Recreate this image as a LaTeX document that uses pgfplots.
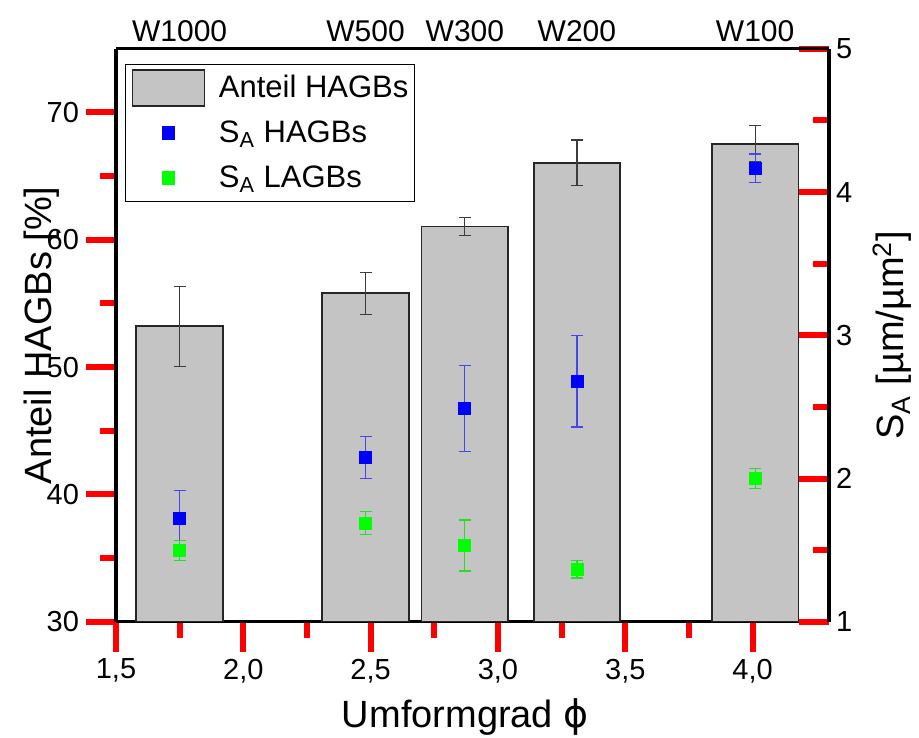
\documentclass[border=0pt]{standalone}
\usepackage{fontspec}
\setmainfont{Liberation Sans}
\newfontfamily\dejavu{DejaVu Sans}
\usepackage{pgfplots}
\pgfplotsset{compat=1.18}
\definecolor{barfill}{RGB}{196,196,196}
\definecolor{hblue}{RGB}{0,0,255}
\definecolor{lgreen}{RGB}{0,255,0}
\definecolor{eblue}{RGB}{70,70,235}
\definecolor{egreen}{RGB}{40,220,40}
\definecolor{egray}{RGB}{60,60,60}
\pgfplotsset{
  common/.style={
    scale only axis, width=356.5pt, height=286.5pt,
    xmin=1.5, xmax=4.3,
    axis line style={line width=1.6pt},
    tick style={red, line width=3pt},
    major tick length=15pt, minor tick length=8pt,
    /pgf/number format/assume math mode=true,
    tick label style={font=\fontsize{14.5}{17}\selectfont},
    label style={font=\fontsize{19}{22}\selectfont, inner sep=0pt},
  },
  barlegend/.style={legend image code/.code={\path[draw=none,fill=none] (0pt,-11.25pt) rectangle (36pt,11.25pt); \draw[##1] (0pt,-9pt) rectangle (36pt,9pt);}},
  mklegend/.style={legend image code/.code={\path[draw=none,fill=none] (0pt,-11.25pt) rectangle (36pt,11.25pt); \draw[##1] plot coordinates {(18pt,0pt)};}},
}
\begin{document}
\begin{tikzpicture}
\begin{axis}[common, at={(0,0)},
  ymin=30, ymax=75,
  axis y line*=left, axis x line*=bottom,
  tick align=outside,
  xtick={1.5,2,2.5,3,3.5,4}, minor x tick num=1,
  ytick={30,40,50,60,70}, minor y tick num=1,
  xticklabel style={/pgf/number format/.cd, use comma, fixed, fixed zerofill, precision=1},
  ylabel={Anteil HAGBs [\%]},
  ylabel style={at={(axis description cs:-0.0898,0.5)}, anchor=base},
  xlabel={Umformgrad {\dejavu ϕ}},
  xlabel style={at={(axis description cs:0.49,-0.185)}, anchor=base},
]
\addplot[ybar, bar width=0.34, fill=barfill, draw=black!85, line width=0.9pt,
  error bars/.cd, y dir=both, y explicit,
  error bar style={egray, line width=0.6pt},
  error mark options={rotate=90, egray, mark size=3pt, line width=0.6pt}]
  table[row sep=\\, x=x, y=y, y error=e] {
x y e\\
1.75 53.2 3.15\\
2.48 55.8 1.65\\
2.87 61.05 0.7\\
3.31 66.05 1.78\\
4.01 67.55 1.4\\
};
\coordinate (BL) at (rel axis cs:0,0);
\coordinate (TR) at (rel axis cs:1,1);
\end{axis}
\begin{axis}[common, at={(0,0)},
  ymin=1, ymax=5,
  axis y line*=right, axis x line=none,
  tick align=inside,
  ytick={1,2,3,4,5}, minor y tick num=1,
  ylabel={S\textsubscript{A} [µm/µm\textsuperscript{2}]},
  ylabel style={at={(axis description cs:1.105,0.5)}, anchor=base},
  legend style={at={(axis description cs:0.0126,0.9735)}, anchor=north west,
    draw=black, line width=0.7pt, inner xsep=3pt, inner ysep=0.5pt,
    font=\fontsize{15.5}{18}\selectfont, row sep=0pt, column sep=6.7pt,
    nodes={inner sep=0pt}},
  legend cell align=left,
]
\addlegendimage{barlegend, fill=barfill, draw=black!85, line width=0.9pt}
\addlegendentry{Anteil HAGBs}
\addplot[only marks, mark=square*, color=hblue, mark size=3pt, mklegend,
  error bars/.cd, y dir=both, y explicit,
  error bar style={eblue, line width=0.6pt},
  error mark options={rotate=90, eblue, mark size=3pt, line width=0.6pt}]
  table[row sep=\\, x=x, y=y, y error=e] {
x y e\\
1.75 1.72 0.195\\
2.48 2.145 0.147\\
2.87 2.487 0.30\\
3.31 2.68 0.32\\
4.01 4.166 0.10\\
};
\addlegendentry{S\textsubscript{A} HAGBs}
\addplot[only marks, mark=square*, color=lgreen, mark size=3pt, mklegend,
  error bars/.cd, y dir=both, y explicit,
  error bar style={egreen, line width=0.6pt},
  error mark options={rotate=90, egreen, mark size=3pt, line width=0.6pt}]
  table[row sep=\\, x=x, y=y, y error=e] {
x y e\\
1.75 1.50 0.07\\
2.48 1.69 0.078\\
2.87 1.533 0.178\\
3.31 1.366 0.06\\
4.01 2.0 0.07\\
};
\addlegendentry{S\textsubscript{A} LAGBs}
\end{axis}
\begin{axis}[scale only axis, at={(0,0)}, width=356.5pt, height=286.5pt,
  xmin=1.5, xmax=4.3, ymin=0, ymax=1,
  axis x line*=top, axis y line=none,
  axis line style={line width=1.6pt},
  major tick length=0pt,
  xtick={1.75,2.48,2.87,3.31,4.01},
  xticklabels={W1000,W500,W300,W200,W100},
  xticklabel style={font=\fontsize{15}{18}\selectfont},
]
\end{axis}
\path[draw=none] ([shift={(-58pt,-57.65pt)}]BL) rectangle ([shift={(45pt,24.4pt)}]TR);
\end{tikzpicture}
\end{document}
